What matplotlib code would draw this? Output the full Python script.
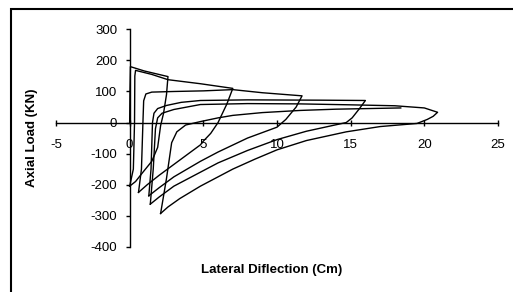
import matplotlib
matplotlib.use("Agg")
import matplotlib.pyplot as plt
from matplotlib.patches import Rectangle

plt.rcParams['font.family'] = ['Liberation Sans', 'DejaVu Sans']
plt.rcParams['axes.unicode_minus'] = False

# ---- data (lateral deflection in cm, axial load in kN), one list pair per cycle ----
c1_x = [0.0, 0.02, 0.05, 1.0, 2.6, 2.5, 2.3, 2.1, 1.9, 1.5, 0.9, 0.4, 0.0]
c1_y = [0, 100, 180, 166, 148, 90, 30, -10, -80, -125, -160, -190, -205]

c2_x = [0.0, 0.25, 0.33, 0.35, 0.4, 1.5, 2.6, 4.8, 7.0, 6.6, 6.0, 5.5, 5.0, 4.8, 4.0, 3.0, 2.0, 1.2, 0.6]
c2_y = [-205, -150, 0, 150, 168, 155, 138, 125, 110, 60, 0, -35, -60, -72, -100, -135, -170, -200, -225]

c3_x = [0.6, 0.8, 0.9, 0.95, 1.1, 1.5, 3.0, 5.0, 7.0, 9.0, 11.7, 11.3, 10.6, 10.0, 8.0, 6.0, 4.8, 3.0, 2.0, 1.3]
c3_y = [-225, -150, 0, 70, 92, 98, 100, 102, 106, 96, 86, 50, 10, -15, -50, -95, -125, -175, -210, -236]

c4_x = [1.3, 1.45, 1.55, 1.65, 1.9, 2.5, 3.5, 4.8, 8.0, 13.0, 16.0, 15.6, 15.1, 14.7, 12.0, 10.0, 8.0, 6.0, 4.8, 3.0, 2.0, 1.4]
c4_y = [-236, -150, 0, 30, 45, 55, 65, 71, 73, 72, 71, 45, 15, 0, -28, -55, -90, -130, -160, -205, -240, -263]

c5_x = [1.4, 1.6, 1.75, 1.9, 2.2, 3.0, 4.8, 8.0, 11.6, 15.0, 18.0, 20.0, 20.9, 20.6, 20.2, 19.5, 17.0, 14.7, 12.0, 10.0, 8.5, 7.0, 6.0, 4.8, 3.4, 2.6, 2.1]
c5_y = [-263, -150, -20, 15, 30, 42, 58, 61, 60, 57, 54, 47, 33, 20, 10, -3, -13, -30, -58, -88, -118, -150, -175, -205, -245, -272, -293]

c6_x = [2.1, 2.5, 2.85, 3.2, 3.8, 4.8, 6.0, 7.0, 9.0, 11.6, 14.0, 18.4]
c6_y = [-293, -180, -65, -30, -8, 3, 15, 23, 32, 39, 43, 47]

x_ticks = [-5, 0, 5, 10, 15, 20, 25]
y_ticks = [-400, -300, -200, -100, 0, 100, 200, 300]
x_title = "Lateral Diflection (Cm)"
y_title = "Axial Load (KN)"

W, H = 513, 292
fig = plt.figure(figsize=(W / 100, H / 100), dpi=100)
ax = fig.add_axes([56 / W, 1 - 246.7 / H, 442 / W, (246.7 - 29.4) / H])

for xs, ys in [(c1_x, c1_y), (c2_x, c2_y), (c3_x, c3_y),
               (c4_x, c4_y), (c5_x, c5_y), (c6_x, c6_y)]:
    ax.plot(xs, ys, color='black', lw=1.0, solid_joinstyle='round')

ax.set_xlim(-5, 25)
ax.set_ylim(-400, 300)
ax.set_xticks(x_ticks)
ax.set_yticks(y_ticks)

for s in ['top', 'right']:
    ax.spines[s].set_visible(False)
ax.spines['left'].set_position(('data', 0))
ax.spines['bottom'].set_position(('data', 0))
for s in ['left', 'bottom']:
    ax.spines[s].set_linewidth(1.0)
    ax.spines[s].set_color('black')

ax.tick_params(axis='x', direction='inout', length=5, width=1, pad=9, labelsize=9.5)
ax.tick_params(axis='y', direction='out', length=3, width=1, pad=6, labelsize=9.5)

fig.text(32 / W, 1 - 138 / H, y_title, rotation=90, ha='center', va='center',
         fontsize=9.5, fontweight='bold')
fig.text(272 / W, 1 - 270 / H, x_title, ha='center', va='center',
         fontsize=9.5, fontweight='bold')

# chart border
fig.patches.append(Rectangle((11 / W, -0.2), 1.2, 1 - 9.3 / H + 0.2,
                             transform=fig.transFigure, fill=False,
                             edgecolor='black', lw=1.5))

fig.savefig('out.png', dpi=100)
